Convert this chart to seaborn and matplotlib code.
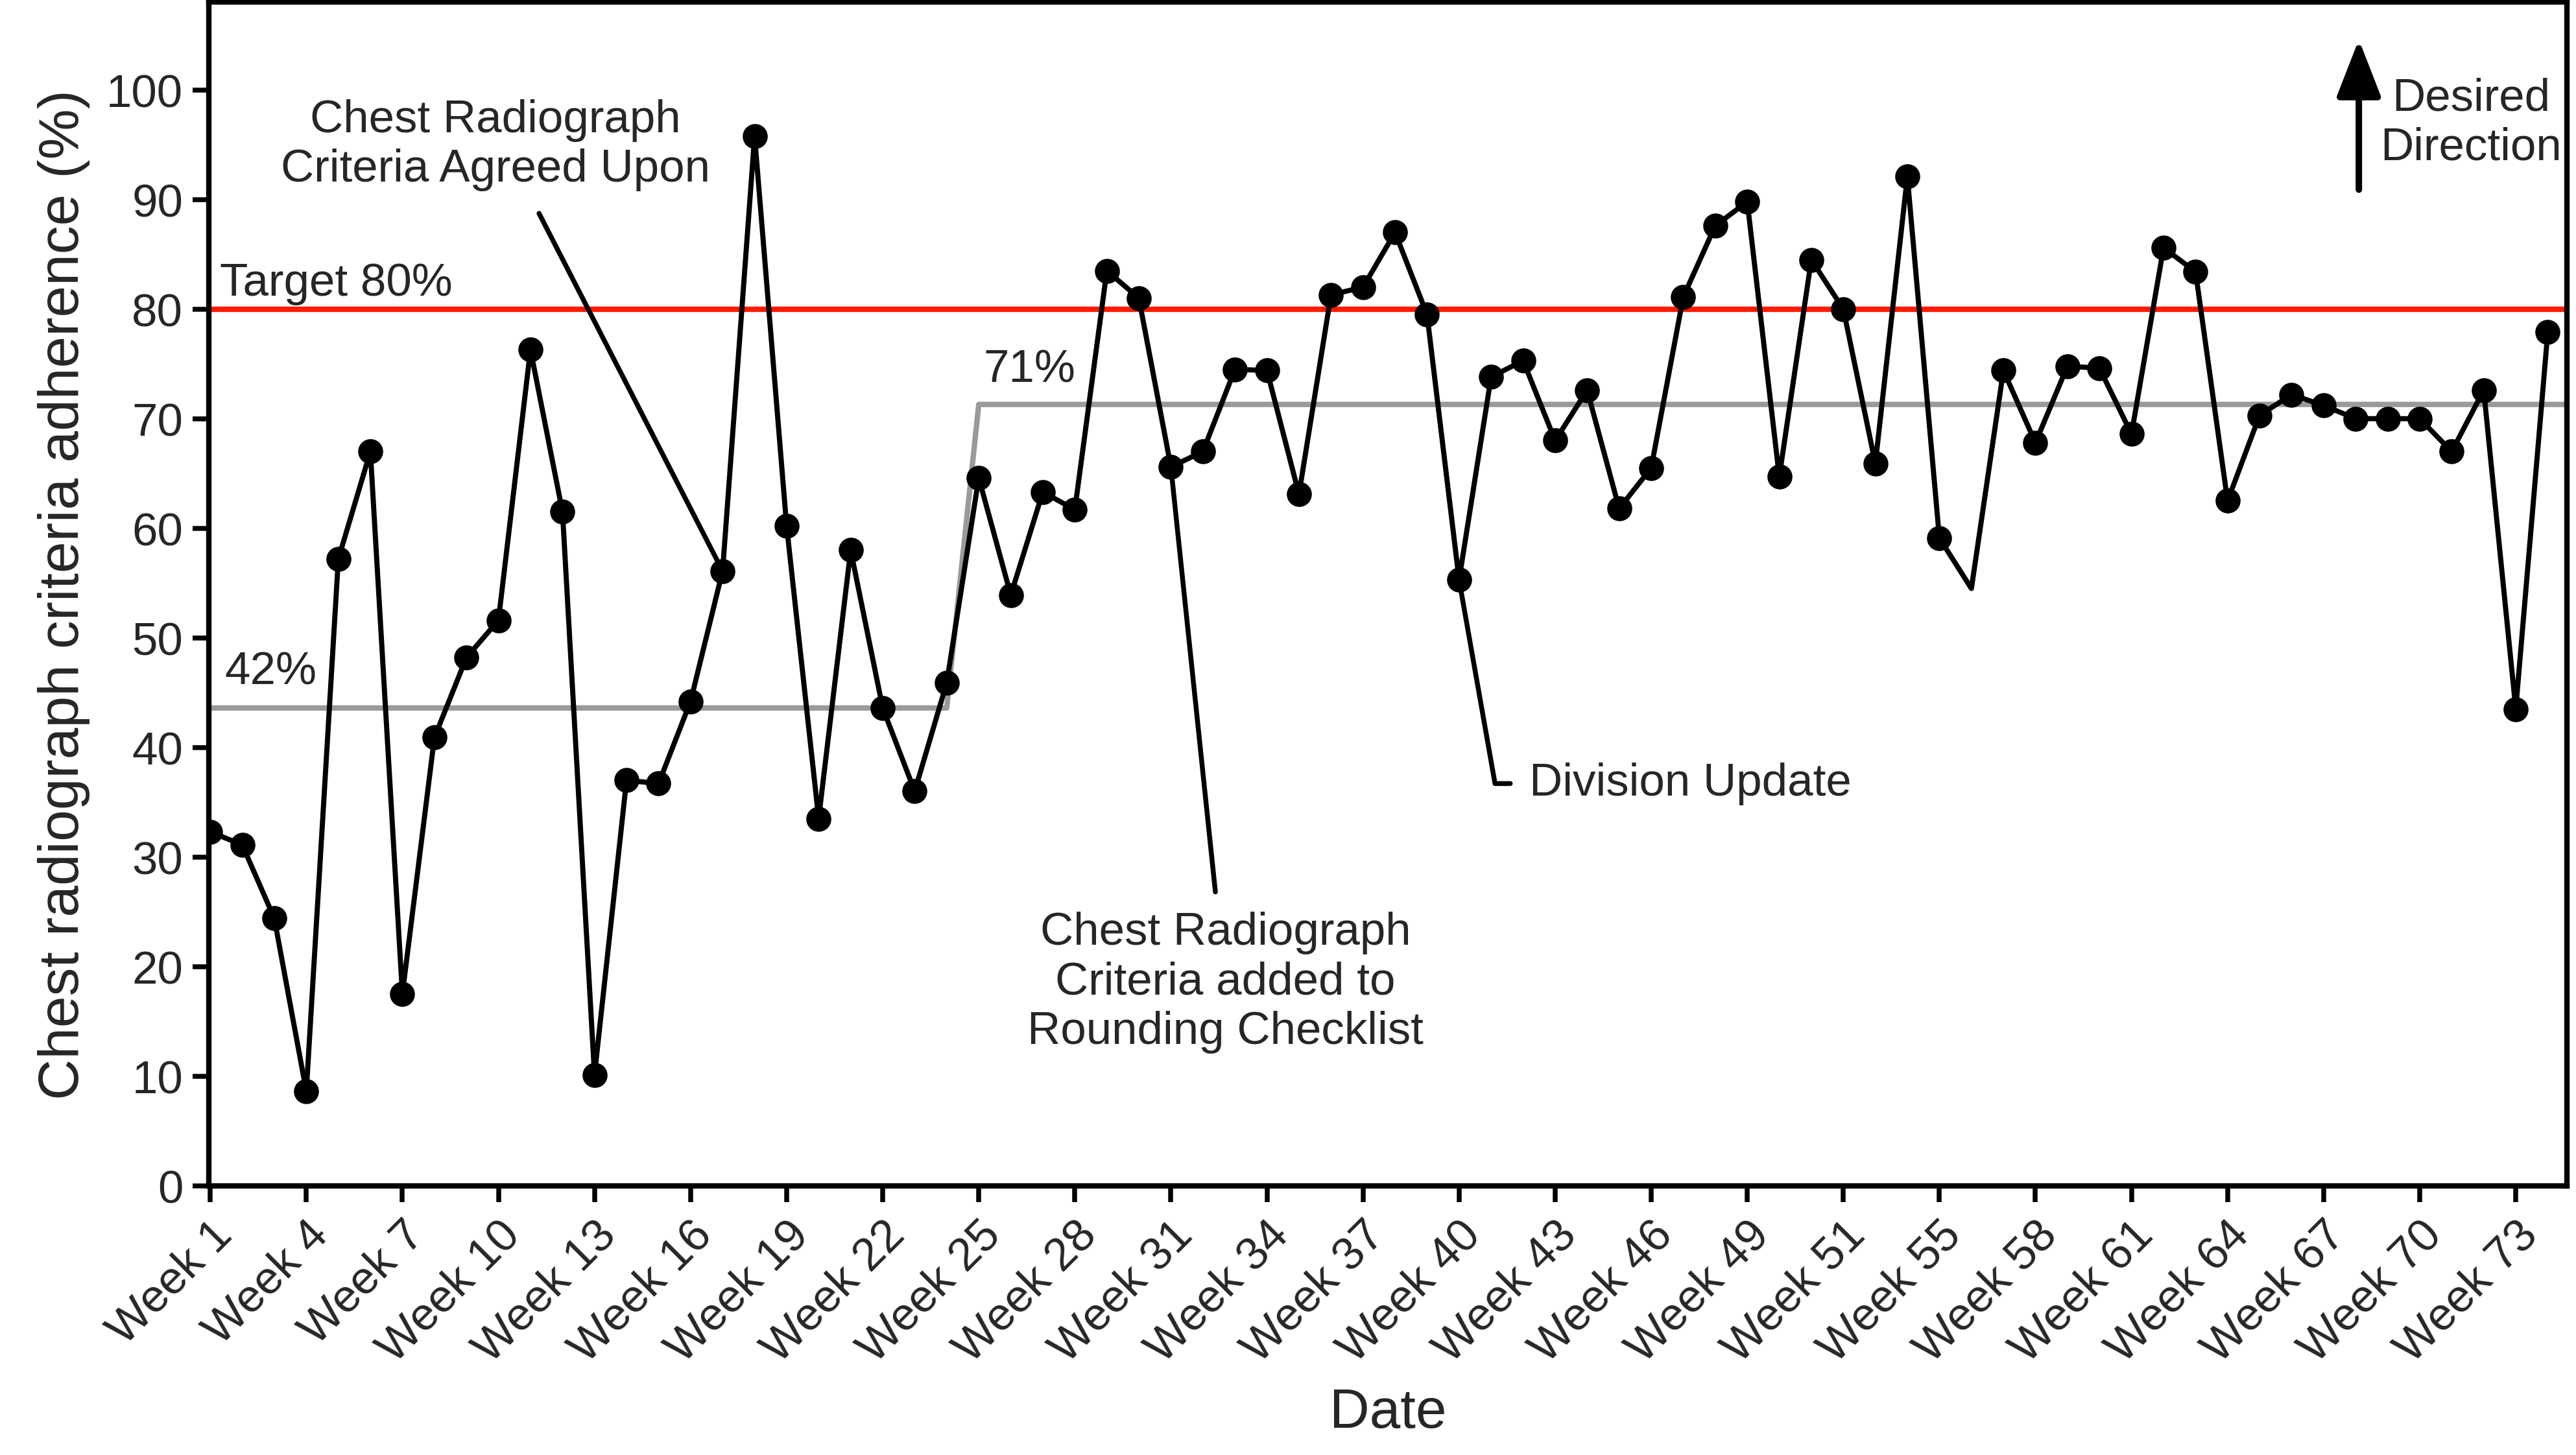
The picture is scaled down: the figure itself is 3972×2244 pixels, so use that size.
import matplotlib.pyplot as plt
import numpy as np
import seaborn as sns
import pandas as pd

# ---- data ----
adherence = [32.3, 31.1, 24.4, 8.6, 57.2, 67.0, 17.5, 40.9, 48.2, 51.6,
             76.3, 61.5, 10.1, 37.0, 36.7, 44.2, 56.1, 95.8, 60.2, 33.5,
             58.0, 43.6, 36.0, 45.9, 64.6, 53.9, 63.3, 61.7, 83.5, 81.0,
             65.6, 67.0, 74.5, 74.4, 63.1, 81.3, 82.0, 87.0, 79.5, 55.3,
             73.8, 75.3, 68.0, 72.6, 61.8, 65.5, 81.1, 87.6, 89.8, 64.7,
             84.5, 80.0, 65.9, 92.1, 59.1, 54.5, 74.4, 67.8, 74.8, 74.6,
             68.6, 85.6, 83.4, 62.5, 70.3, 72.2, 71.2, 70.0, 70.0, 70.0,
             67.0, 72.6, 43.5, 77.9]
no_marker_idx = [55]
tick_labels = ["Week 1", "Week 4", "Week 7", "Week 10", "Week 13", "Week 16",
               "Week 19", "Week 22", "Week 25", "Week 28", "Week 31", "Week 34",
               "Week 37", "Week 40", "Week 43", "Week 46", "Week 49", "Week 51",
               "Week 55", "Week 58", "Week 61", "Week 64", "Week 67", "Week 70",
               "Week 73"]
target = 80
phase_last_idx = [23, 73]     # last point of each phase
phase_center = [43.6, 71.3]   # centre line of each phase
phase_text = ["42%", "71%"]

df = pd.DataFrame({"idx": np.arange(len(adherence)), "adherence": adherence})

sns.set_style("ticks")
plt.rcParams['font.family'] = ['Liberation Sans', 'DejaVu Sans']

FS = 17
fig, ax = plt.subplots(figsize=(13.24, 7.4833), dpi=300)
fig.subplots_adjust(left=0.081, right=0.9965, top=0.998, bottom=0.185)

xmax = len(adherence) - 1 + 0.6

# target line
ax.axhline(target, color="#ff1a00", lw=2.0, zorder=1)
ax.text(0.3, target + 1.3, f"Target {target}%", fontsize=FS, ha="left", va="baseline")

# centre lines (step between phases)
cx = [0, phase_last_idx[0], phase_last_idx[0] + 1, xmax + 1]
cy = [phase_center[0], phase_center[0], phase_center[1], phase_center[1]]
ax.plot(cx, cy, color="#9a9a9a", lw=2.0, zorder=1)
ax.text(0.45, 45.8, phase_text[0], fontsize=FS, ha="left", va="baseline")
ax.text(phase_last_idx[0] + 1.15, 73.4, phase_text[1], fontsize=FS, ha="left", va="baseline")

# data run line
marked = [i for i in range(len(adherence)) if i not in no_marker_idx]
sns.lineplot(data=df, x="idx", y="adherence", ax=ax, color="black", lw=1.9,
             marker="o", markersize=8.5, markevery=marked, markeredgecolor="black",
             zorder=3)

# annotations
ann_kw = dict(fontsize=FS, multialignment="center")
ax.annotate("Chest Radiograph\nCriteria Agreed Upon", xy=(16, adherence[16]),
            xytext=(8.9, 95.0), ha="center", va="center",
            arrowprops=dict(arrowstyle="-", color="black", lw=1.8,
                            relpos=(0.575, 0.0), shrinkA=7, shrinkB=0),
            **ann_kw)
ax.annotate("Chest Radiograph\nCriteria added to\nRounding Checklist", xy=(30, adherence[30]),
            xytext=(31.7, 18.6), ha="center", va="center",
            arrowprops=dict(arrowstyle="-", color="black", lw=1.8,
                            relpos=(0.48, 1.0), shrinkA=5, shrinkB=0),
            **ann_kw)
ax.annotate("Division Update", xy=(39, adherence[39]),
            xytext=(41.2, 36.7), ha="left", va="center",
            arrowprops=dict(arrowstyle="-", color="black", lw=1.8,
                            relpos=(0.0, 0.5), shrinkA=5, shrinkB=0,
                            connectionstyle="angle,angleA=0,angleB=100,rad=0"),
            **ann_kw)

# desired direction arrow
ax.annotate("", xy=(67.1, 104.6), xytext=(67.1, 90.9),
            arrowprops=dict(arrowstyle="-|>,head_length=0.9,head_width=0.35",
                            mutation_scale=20, color="black", lw=2.4,
                            shrinkA=0, shrinkB=0))
ax.text(70.6, 97.0, "Desired\nDirection", ha="center", va="center", **ann_kw)

# axes
ax.set_xlim(-0.05, xmax)
ax.set_ylim(0, 108)
ax.set_yticks(np.arange(0, 101, 10))
ax.set_xticks(np.arange(0, len(adherence), 3)[:len(tick_labels)])
ax.set_xticklabels(tick_labels, rotation=45, ha="right", rotation_mode="anchor")
ax.tick_params(axis="both", labelsize=FS, length=6, width=1.8, direction="out", color="black")
ax.tick_params(axis="x", pad=4)
ax.set_xlabel("Date", fontsize=20.5, labelpad=6)
ax.set_ylabel("Chest radiograph criteria adherence (%)", fontsize=21, labelpad=6)
for s in ax.spines.values():
    s.set_visible(True)
    s.set_color("black")
    s.set_linewidth(2.0)

plt.savefig("out.png", dpi=300)
